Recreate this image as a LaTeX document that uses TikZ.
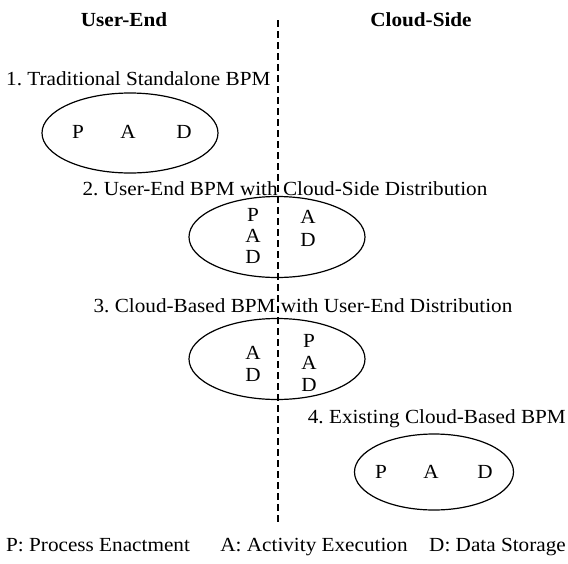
\documentclass[tikz,border=0pt]{standalone}
\usepackage{fontspec}
\setmainfont{Liberation Serif}[FakeStretch=1.06]
\usepackage{tikz}
\usetikzlibrary{shapes.geometric}
\newcommand{\bigtext}{\fontsize{20}{23}\selectfont}

\begin{document}
\frenchspacing
\begin{tikzpicture}[x=1pt,y=-1pt,
    every node/.style={font=\bigtext,inner sep=0pt},
    side/.style={font=\bigtext\bfseries},
    caption/.style={anchor=base},
    bpm/.style={draw,ellipse,line width=1.2pt,minimum width=176pt,minimum height=81pt},
    border/.style={line width=1.8pt,dash pattern=on 7pt off 4pt}]
  \useasboundingbox (0,0) rectangle (568,563);
  % sides
  \node[side] (user) at (124,20) {User-End};
  \node[side] (cloud) at (421,20) {Cloud-Side};
  \coordinate (top) at (278,20);
  \coordinate (bottom) at (278,522);
  \draw[border] (top) -- (bottom);
  % 1
  \node[caption,anchor=base west] (t1) at (6,85) {1. Traditional Standalone BPM};
  \node[bpm,minimum height=80pt] (e1) at (130,133) {};
  \node (p1) at (78,132) {P};
  \node (a1) at (128,132) {A};
  \node (d1) at (184,132) {D};
  % 2
  \node[caption] (t2) at (285,195) {2. User-End BPM with Cloud-Side Distribution};
  \node[bpm] (e2) at (277,237) {};
  \node (p2) at (253,215) {P};
  \node (a2) at (253,236) {A};
  \node (d2) at (253,257) {D};
  \node (a2r) at (308,217) {A};
  \node (d2r) at (308,240) {D};
  % 3
  \node[caption] (t3) at (303,312) {3. Cloud-Based BPM with User-End Distribution};
  \node[bpm] (e3) at (277,359) {};
  \node (a3) at (253,353) {A};
  \node (d3) at (253,375) {D};
  \node (p3r) at (309,341) {P};
  \node (a3r) at (309,363) {A};
  \node (d3r) at (309,385) {D};
  % 4
  \node[caption,anchor=base east] (t4) at (566,423) {4. Existing Cloud-Based BPM};
  \node[bpm,minimum width=159pt,minimum height=76pt] (e4) at (434,472) {};
  \node (p4) at (381,472) {P};
  \node (a4) at (431,472) {A};
  \node (d4) at (485,472) {D};
  % legend
  \node[caption,anchor=base west] (lp) at (6,551) {P: Process Enactment};
  \node[caption] (la) at (314,551) {A: Activity Execution};
  \node[caption,anchor=base east] (ld) at (566,551) {D: Data Storage};
\end{tikzpicture}
\end{document}
